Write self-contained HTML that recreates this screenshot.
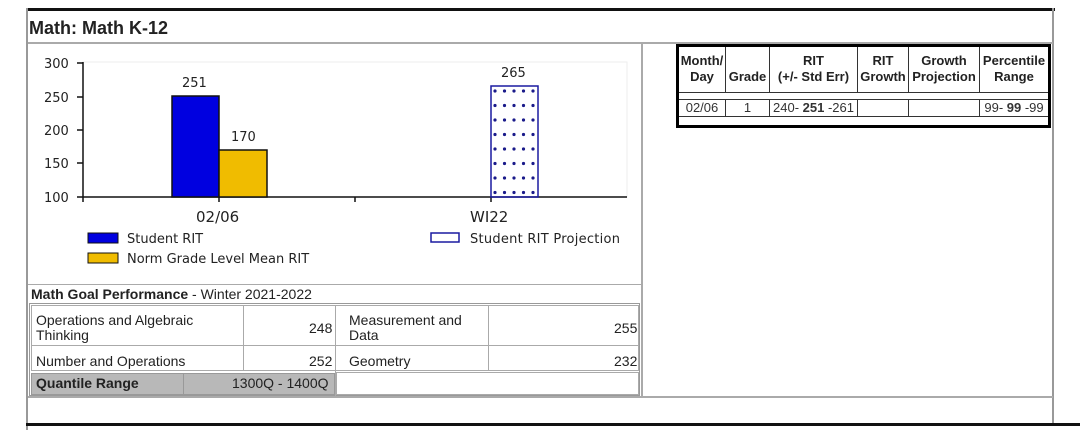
<!DOCTYPE html>
<html><head><style>
body{margin:0;width:1080px;height:430px;background:#fff;position:relative;overflow:hidden;font-family:"DejaVu Sans","Liberation Sans",sans-serif;}
.a{position:absolute}
.t{position:absolute;font-size:13px;color:#222;white-space:nowrap}
.l{font-family:"Liberation Sans",sans-serif}
table.r{position:absolute;left:676px;top:44px;width:375px;height:84px;border:3px solid #000;border-collapse:collapse;font-family:"Liberation Sans",sans-serif;font-size:13px;table-layout:fixed}
table.r td{border:1px solid #333;padding:0 1px;text-align:center;color:#333;overflow:hidden;white-space:nowrap}
table.r tr.h td{font-weight:bold;line-height:16px;color:#222}
</style></head><body>
<div class="a" style="left:26px;top:8px;width:1029px;height:3px;background:#111"></div>
<div class="a" style="left:26px;top:8px;width:2px;height:422px;background:#999"></div>
<div class="a" style="left:1052px;top:8px;width:2px;height:416px;background:#999"></div>
<div class="t l" style="left:29px;top:18px;font-size:18px;font-weight:bold;">Math: Math K-12</div>
<div class="a" style="left:28px;top:42px;width:1025px;height:2px;background:#aaa"></div>
<div class="a" style="left:641px;top:43px;width:2px;height:355px;background:#aaa"></div>
<div class="a" style="left:28px;top:396px;width:1025px;height:2px;background:#aaa"></div>
<div class="a" style="left:26px;top:423px;width:1054px;height:3px;background:#111"></div>
<!-- chart -->
<svg class="a" style="left:28px;top:44px" width="612" height="240">
<rect x="55" y="18" width="544" height="135" fill="none" stroke="#eee"/>
<g font-family="DejaVu Sans" font-size="13" fill="#222">
<text x="16" y="24">300</text><text x="16" y="58">250</text><text x="16" y="91">200</text><text x="16" y="124">150</text><text x="16" y="158">100</text>
<text x="154" y="43">251</text><text x="203" y="97">170</text><text x="473" y="33">265</text>
<text x="168" y="178" font-size="15">02/06</text><text x="442" y="178" font-size="15">WI22</text>
<text x="99" y="199">Student RIT</text><text x="99" y="219">Norm Grade Level Mean RIT</text><text x="442" y="199" textLength="150">Student RIT Projection</text>
</g>
<g stroke="#111" stroke-width="1.5">
<line x1="55" y1="18" x2="55" y2="158"/><line x1="55" y1="153" x2="599" y2="153"/>
<line x1="49" y1="19" x2="55" y2="19"/><line x1="49" y1="53" x2="55" y2="53"/><line x1="49" y1="86" x2="55" y2="86"/><line x1="49" y1="119" x2="55" y2="119"/><line x1="49" y1="153" x2="55" y2="153"/>
<line x1="191" y1="153" x2="191" y2="158"/><line x1="327" y1="153" x2="327" y2="158"/><line x1="463" y1="153" x2="463" y2="158"/>
</g>
<defs><pattern id="d" width="9.5" height="14.5" patternUnits="userSpaceOnUse" x="463" y="42"><circle cx="4" cy="5" r="1.6" fill="#1a1a8a"/></pattern></defs>
<rect x="144" y="52" width="47" height="101" fill="#0000e0" stroke="#111" stroke-width="1.5"/>
<rect x="191" y="106" width="48" height="47" fill="#f0bc00" stroke="#111" stroke-width="1.5"/>
<rect x="463" y="42" width="47" height="111" fill="url(#d)" stroke="#1a1aa0" stroke-width="1.5"/>
<rect x="60" y="189" width="30" height="10" fill="#0000e0" stroke="#111"/>
<rect x="60" y="209" width="30" height="10" fill="#f0bc00" stroke="#111"/>
<rect x="403" y="189" width="28" height="9" fill="#fff" stroke="#1a1aa0" stroke-width="1.5"/>
</svg>
<!-- goal -->
<div class="a" style="left:28px;top:284px;width:614px;height:1px;background:#aaa"></div>
<div class="t l" style="left:31px;top:286px;font-size:14px"><b>Math Goal Performance</b> - Winter 2021-2022</div>
<div class="a" style="left:29px;top:303px;width:611px;height:93px;border:1px solid #999;box-sizing:border-box"></div>
<div class="a" style="left:31px;top:305px;width:608px;height:66px;border:1px solid #aaa;box-sizing:border-box"></div>
<div class="a" style="left:31px;top:345px;width:608px;height:1px;background:#aaa"></div>
<div class="a" style="left:243px;top:305px;width:1px;height:66px;background:#aaa"></div>
<div class="a" style="left:335px;top:305px;width:1px;height:91px;background:#aaa"></div>
<div class="a" style="left:488px;top:305px;width:1px;height:66px;background:#aaa"></div>
<div class="a" style="left:31px;top:373px;width:304px;height:22px;background:#b8b8b8;border:1px solid #999;box-sizing:border-box"></div>
<div class="a" style="left:183px;top:373px;width:1px;height:22px;background:#999"></div>
<div class="a" style="left:336px;top:372px;width:303px;height:23px;border:1px solid #aaa;box-sizing:border-box"></div>
<div class="t l" style="left:36px;top:313px;font-size:14px;line-height:15px">Operations and Algebraic<br>Thinking</div>
<div class="t l" style="left:309px;top:320px;font-size:14px">248</div>
<div class="t l" style="left:349px;top:313px;font-size:14px;line-height:15px">Measurement and<br>Data</div>
<div class="t l" style="left:614px;top:320px;font-size:14px">255</div>
<div class="t l" style="left:36px;top:353px;font-size:14px">Number and Operations</div>
<div class="t l" style="left:309px;top:353px;font-size:14px">252</div>
<div class="t l" style="left:349px;top:353px;font-size:14px">Geometry</div>
<div class="t l" style="left:614px;top:353px;font-size:14px">232</div>
<div class="t l" style="left:36px;top:375px;font-size:14px;font-weight:bold">Quantile Range</div>
<div class="t l" style="left:232px;top:375px;font-size:14px">1300Q - 1400Q</div>
<!-- right table -->
<table class="r">
<colgroup><col style="width:48px"><col style="width:44px"><col style="width:88px"><col style="width:51px"><col style="width:71px"><col></colgroup>
<tr class="h" style="height:45px"><td>Month/<br>Day</td><td><br>Grade</td><td>RIT<br>(+/- Std Err)</td><td>RIT<br>Growth</td><td>Growth<br>Projection</td><td>Percentile<br>Range</td></tr>
<tr style="height:7px"><td colspan="6" style="border-left:none;border-right:none"></td></tr>
<tr style="height:16px"><td>02/06</td><td>1</td><td>240- <b>251</b> -261</td><td></td><td></td><td>99- <b>99</b> -99</td></tr>
<tr style="height:10px"><td colspan="6"></td></tr>
</table>
</body></html>
